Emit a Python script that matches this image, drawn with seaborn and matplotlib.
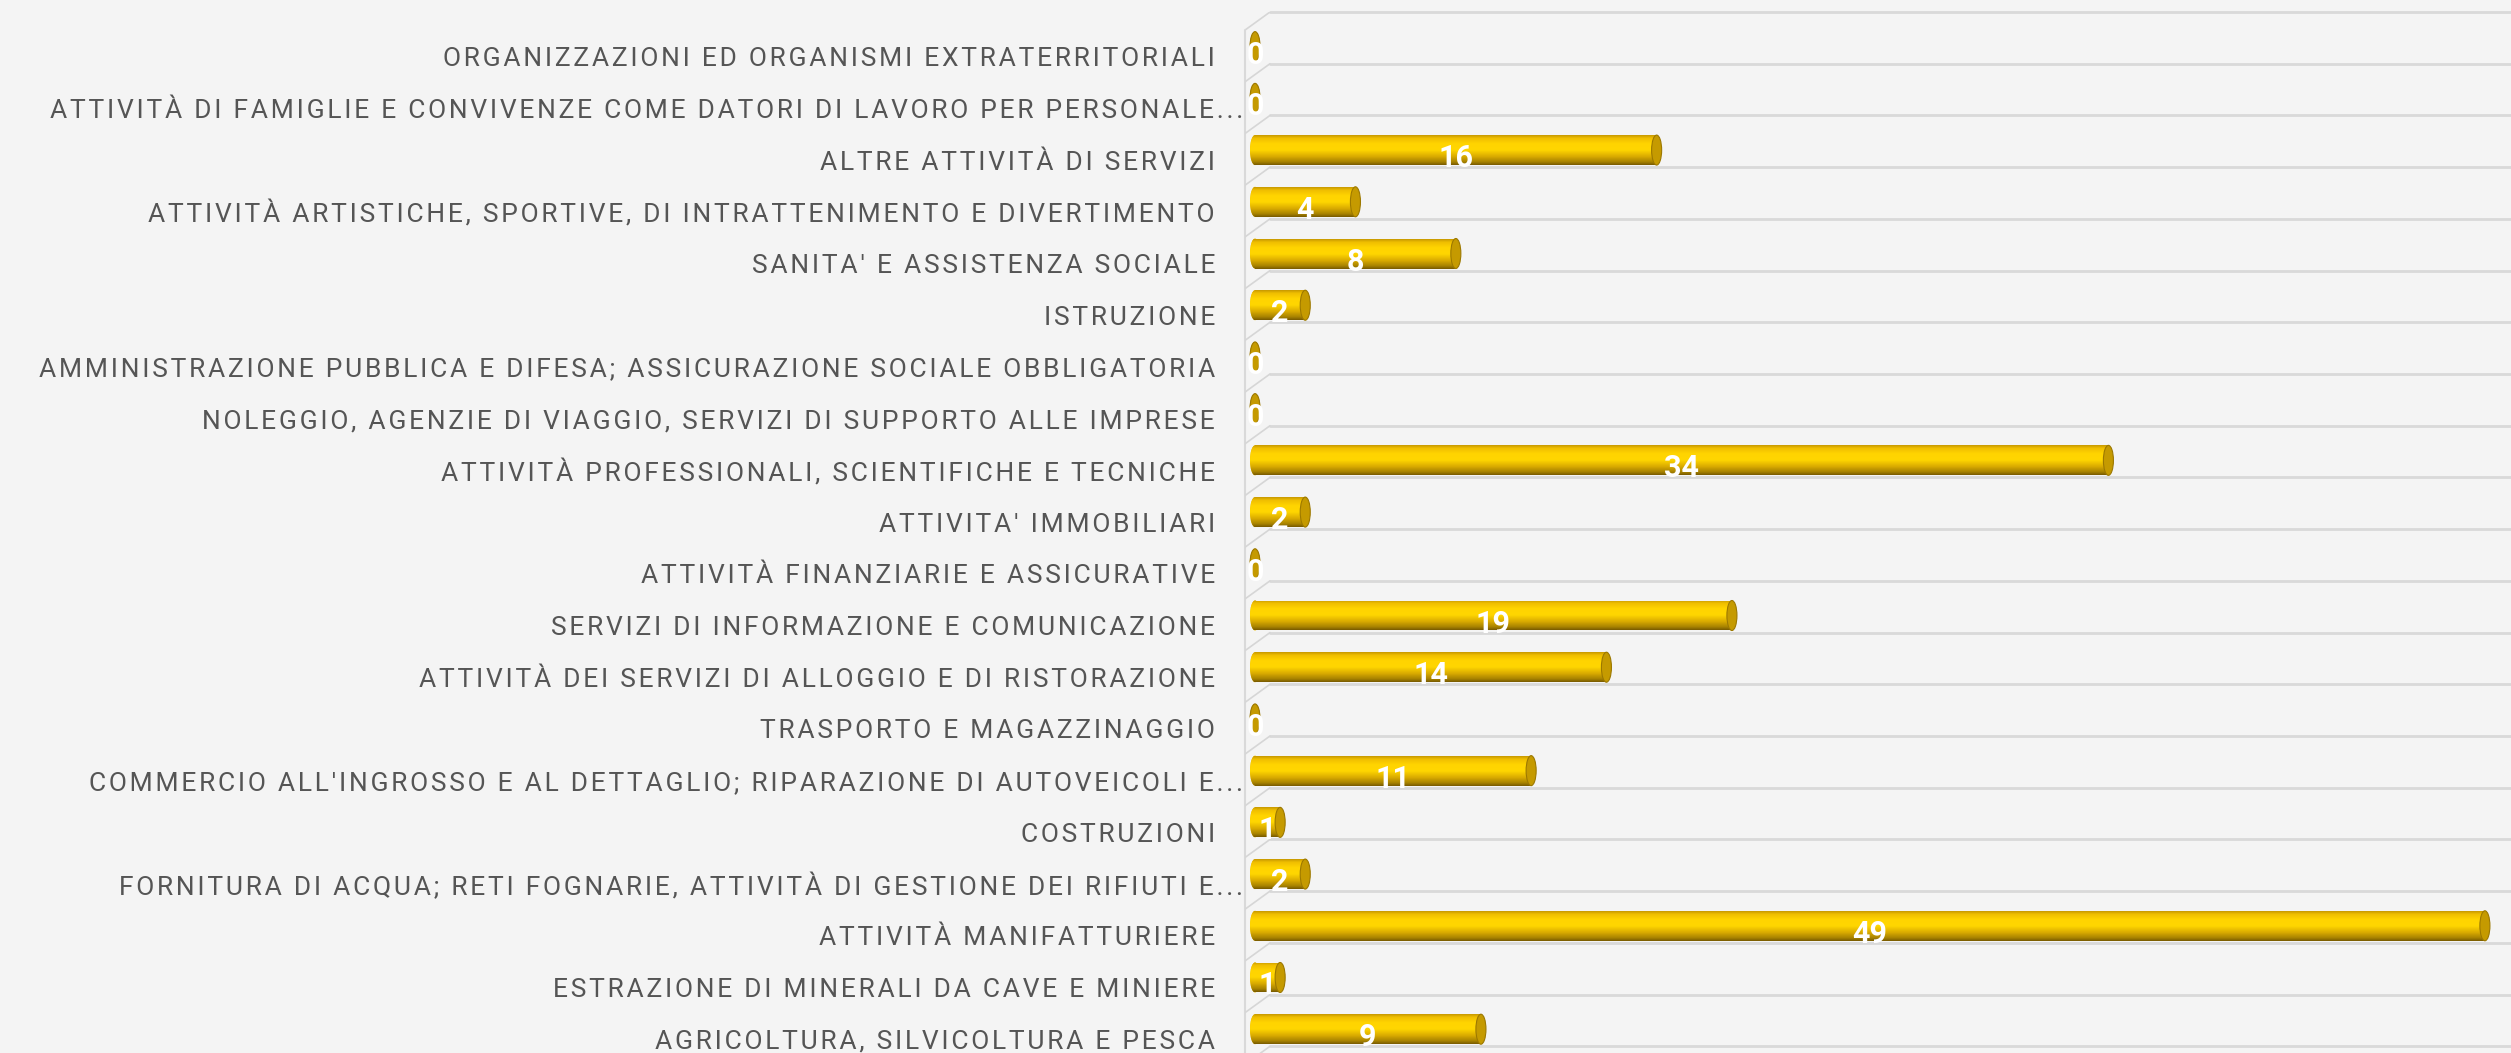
import numpy as np
import pandas as pd
import matplotlib
matplotlib.use('Agg')
import matplotlib.pyplot as plt
import seaborn as sns
from matplotlib.patches import Ellipse
from matplotlib.colors import LinearSegmentedColormap
from matplotlib.transforms import blended_transform_factory, ScaledTranslation

categories = [
    "ORGANIZZAZIONI ED ORGANISMI EXTRATERRITORIALI",
    "ATTIVITÀ DI FAMIGLIE E CONVIVENZE COME DATORI DI LAVORO PER PERSONALE...",
    "ALTRE ATTIVITÀ DI SERVIZI",
    "ATTIVITÀ ARTISTICHE, SPORTIVE, DI INTRATTENIMENTO E DIVERTIMENTO",
    "SANITA' E ASSISTENZA SOCIALE",
    "ISTRUZIONE",
    "AMMINISTRAZIONE PUBBLICA E DIFESA; ASSICURAZIONE SOCIALE OBBLIGATORIA",
    "NOLEGGIO, AGENZIE DI VIAGGIO, SERVIZI DI SUPPORTO ALLE IMPRESE",
    "ATTIVITÀ PROFESSIONALI, SCIENTIFICHE E TECNICHE",
    "ATTIVITA' IMMOBILIARI",
    "ATTIVITÀ FINANZIARIE E ASSICURATIVE",
    "SERVIZI DI INFORMAZIONE E COMUNICAZIONE",
    "ATTIVITÀ DEI SERVIZI DI ALLOGGIO E DI RISTORAZIONE",
    "TRASPORTO E MAGAZZINAGGIO",
    "COMMERCIO ALL'INGROSSO E AL DETTAGLIO; RIPARAZIONE DI AUTOVEICOLI E...",
    "COSTRUZIONI",
    "FORNITURA DI ACQUA; RETI FOGNARIE, ATTIVITÀ DI GESTIONE DEI RIFIUTI E...",
    "ATTIVITÀ MANIFATTURIERE",
    "ESTRAZIONE DI MINERALI DA CAVE E MINIERE",
    "AGRICOLTURA, SILVICOLTURA E PESCA",
]
values = [0, 0, 16, 4, 8, 2, 0, 0, 34, 2, 0, 19, 14, 0, 11, 1, 2, 49, 1, 9]

df = pd.DataFrame({'settore': categories, 'n': values})

bg = '#f4f4f4'
sns.set_theme(style='white')
plt.rcParams['font.family'] = ['Roboto', 'DejaVu Sans']

fig = plt.figure(figsize=(25.11, 10.53), dpi=100, facecolor=bg)
ax = fig.add_axes([1245 / 2511, 0, 1266 / 2511, 1041 / 1053])
ax.set_facecolor(bg)

bar_h = 0.58
sns.barplot(data=df, x='n', y='settore', orient='h', color='#f5c800',
            width=bar_h, ax=ax, zorder=3)

ax.set_xlim(-0.4, 50.04)
ax.set_ylim(19.46, -0.67)
for s in ax.spines.values():
    s.set_visible(False)
ax.set_xticks([])
ax.set_xlabel('')
ax.set_ylabel('')

# cylinder shading
gold = LinearSegmentedColormap.from_list('gold', [
    (0.0, '#7a5c00'), (0.1, '#a88300'), (0.28, '#d9aa00'),
    (0.5, '#ffd600'), (0.72, '#ffd400'), (0.9, '#f0bf00'), (1.0, '#c99a00')])
grad = np.linspace(0, 1, 64).reshape(-1, 1)
cap_w = 0.4


def shade(patch, x0, x1, yc):
    im = ax.imshow(grad, extent=[x0, x1, yc + bar_h / 2, yc - bar_h / 2],
                   origin='lower', aspect='auto', cmap=gold, zorder=4)
    im.set_clip_path(patch)


for i, p in enumerate(ax.patches[:len(values)]):
    yc = p.get_y() + p.get_height() / 2
    w = p.get_width()
    p.set_edgecolor('none')
    left = Ellipse((0, yc), cap_w, bar_h, facecolor='#f0c000', edgecolor='none', zorder=3)
    ax.add_patch(left)
    shade(left, -cap_w, cap_w, yc)
    if w > 0:
        shade(p, 0, w, yc)
    cap = Ellipse((w, yc), cap_w, bar_h, facecolor='#c59a00',
                  edgecolor='#9c7800', linewidth=0.8, zorder=5)
    ax.add_patch(cap)

# value labels
lab_off = ScaledTranslation(0, -0.08, fig.dpi_scale_trans)
for i, v in enumerate(values):
    ax.text(v / 2, i, str(v), ha='center', va='center', color='white',
            fontsize=22, fontweight='bold',
            family=['Liberation Sans Narrow', 'Roboto', 'DejaVu Sans'],
            transform=ax.transData + lab_off, zorder=6)

# 3d wall and floor lines
tr = blended_transform_factory(ax.transAxes, ax.transData)
dxf = 25 / 1266
dy = 0.35
grid_c = '#d9d9d9'
y_top = -0.67
ax.plot([dxf, 1], [y_top, y_top], color=grid_c, lw=2, transform=tr, clip_on=False, zorder=1)
ax.plot([0, dxf], [y_top + dy, y_top], color='#d6d6d6', lw=1.2, transform=tr, zorder=1)
ax.plot([0, 0], [y_top + dy, 19.46], color=grid_c, lw=1.5, transform=tr, clip_on=False, zorder=1)
for i in range(len(categories)):
    b = i + 0.33
    ax.plot([dxf, 1], [b, b], color=grid_c, lw=2, transform=tr, zorder=1)
    ax.plot([0, dxf], [b + dy, b], color='#d6d6d6', lw=1.2, transform=tr, zorder=1)


def spaced(s):
    # letter spacing like the original (hair spaces between glyphs)
    return '\u200a'.join(s)


# category labels
ax.tick_params(axis='y', length=0, pad=21.6, labelsize=19, labelcolor='#555555')
ax.set_yticks(range(len(categories)))
ax.set_yticklabels([spaced(c) for c in categories])
down = ScaledTranslation(0, -0.10, fig.dpi_scale_trans)
right = ScaledTranslation(0.28, 0, fig.dpi_scale_trans)
for t in ax.get_yticklabels():
    tf = t.get_transform() + down
    if t.get_text().endswith('.'):
        tf = tf + right
    t.set_transform(tf)

fig.savefig('out.png', dpi=100, facecolor=bg)
